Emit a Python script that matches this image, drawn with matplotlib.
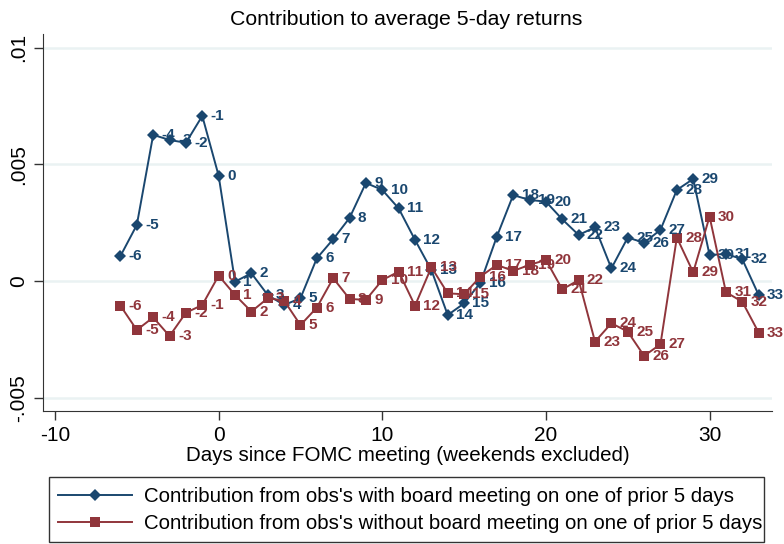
import matplotlib
matplotlib.use("Agg")
import matplotlib.pyplot as plt

plt.rcParams["font.family"] = ["Liberation Sans", "DejaVu Sans"]
plt.rcParams["axes.unicode_minus"] = False

BLUE, RED, GRID = "#1a476f", "#90353b", "#eaf2f3"

days = [-6, -5, -4, -3, -2, -1, 0, 1, 2, 3, 4, 5, 6, 7, 8, 9, 10, 11, 12, 13,
        14, 15, 16, 17, 18, 19, 20, 21, 22, 23, 24, 25, 26, 27, 28, 29, 30,
        31, 32, 33]

with_board = [0.00107, 0.0024, 0.00626, 0.00604, 0.00592, 0.00707, 0.00451,
              -0.00003, 0.00033, -0.0006, -0.00103, -0.00074, 0.00097, 0.00179,
              0.0027, 0.0042, 0.0039, 0.00311, 0.00176, 0.00047, -0.00146,
              -0.00096, -0.00007, 0.0019, 0.00368, 0.00347, 0.0034, 0.00264,
              0.00197, 0.0023, 0.00054, 0.00186, 0.00164, 0.00219, 0.0039,
              0.00437, 0.00111, 0.00116, 0.00093, -0.0006]

without_board = [-0.00106, -0.0021, -0.00156, -0.00236, -0.00136, -0.00103,
                 0.00023, -0.0006, -0.00131, -0.00074, -0.00084, -0.00189,
                 -0.00114, 0.00012, -0.00077, -0.00081, 0.00004, 0.0004,
                 -0.00106, 0.00059, -0.00053, -0.00057, 0.00019, 0.00069,
                 0.00043, 0.00069, 0.0009, -0.00036, 0.00004, -0.0026,
                 -0.00181, -0.00217, -0.00321, -0.00271, 0.00186, 0.00037,
                 0.00276, -0.00048, -0.00089, -0.00221]

yticks = [-0.005, 0, 0.005, 0.01]
ytick_labels = ["-.005", "0", ".005", ".01"]
xticks = [-10, 0, 10, 20, 30]

fig = plt.figure(figsize=(7.84, 5.44), dpi=100)
ax = fig.add_axes([0.0545, 0.2445, 0.9305, 0.693])

ax.plot(days, with_board, color=BLUE, lw=1.4, marker="D", ms=6, mew=0,
        label="Contribution from obs's with board meeting on one of prior 5 days", zorder=3)
ax.plot(days, without_board, color=RED, lw=1.4, marker="s", ms=6.5, mew=0,
        label="Contribution from obs's without board meeting on one of prior 5 days", zorder=3)

# marker labels to the right of each point
for xs, ys, c in ((days, with_board, BLUE), (days, without_board, RED)):
    for x, y in zip(xs, ys):
        ax.annotate(str(x), (x, y), xytext=(6, 0), textcoords="offset points",
                    color=c, fontsize=11, fontweight="bold", va="center", ha="left",
                    zorder=4)

ax.set_xlim(-10.75, 33.83)
ax.set_ylim(-0.00557, 0.01058)
ax.set_xticks(xticks)
ax.set_yticks(yticks)
ax.set_yticklabels(ytick_labels, rotation=90, va="center")
ax.tick_params(labelsize=15, length=6.5, width=1, color="#333333", pad=4)
ax.grid(True, axis="y", color=GRID, lw=1.8)
ax.set_axisbelow(True)
for s in ("top", "right"):
    ax.spines[s].set_visible(False)
for s in ("left", "bottom"):
    ax.spines[s].set_color("#333333")

ax.set_xlabel("Days since FOMC meeting (weekends excluded)", fontsize=14.8, labelpad=1)
fig.suptitle("Contribution to average 5-day returns", fontsize=15.3, x=0.518, y=0.982)

leg = fig.legend(loc="lower left", bbox_to_anchor=(49/784, 2/544, 715/784, 66/544),
                 mode="expand", fontsize=14.7, handlelength=3.6, handletextpad=0.58,
                 borderpad=0.45, labelspacing=0.4, frameon=True, fancybox=False,
                 borderaxespad=0)
leg.get_frame().set_edgecolor("black")
leg.get_frame().set_linewidth(1)

fig.savefig("out.png", dpi=100)
